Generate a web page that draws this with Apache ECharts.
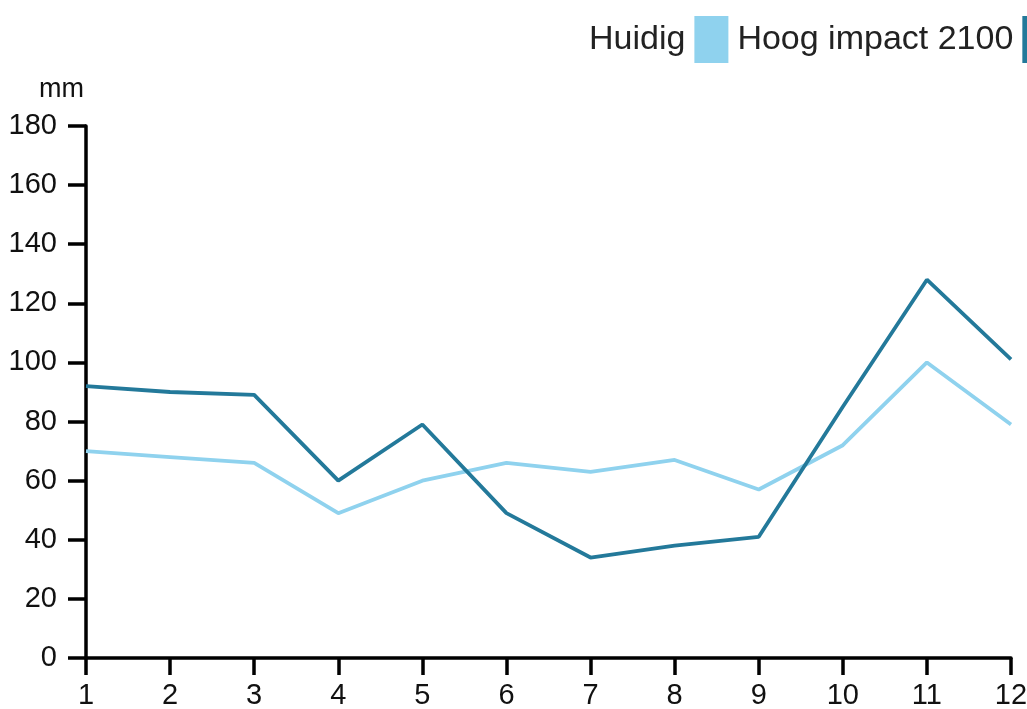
<!DOCTYPE html>
<html>
<head>
<meta charset="utf-8">
<script src="https://cdn.jsdelivr.net/npm/echarts@6/dist/echarts.min.js"></script>
<style>
  html, body { margin: 0; padding: 0; background: #fff; }
  #chart { width: 1027px; height: 709px; }
</style>
</head>
<body>
<div id="chart"></div>
<script>
// maanden en neerslag (mm)
const months = ['1', '2', '3', '4', '5', '6', '7', '8', '9', '10', '11', '12']
const huidig = [70, 68, 66, 49, 60, 66, 63, 67, 57, 72, 100, 79]
const hoogImpact2100 = [92, 90, 89, 60, 79, 49, 34, 38, 41, 85, 128, 101]

const chart = echarts.init(document.getElementById('chart'))

const axisFont = {
  fontFamily: 'Liberation Sans, Arial, sans-serif',
  fontSize: 29,
  color: '#111'
}

chart.setOption({
  animation: false,
  legend: {
    left: 584,
    top: 11,
    width: 800,
    align: 'right',
    itemWidth: 34,
    itemHeight: 47,
    itemGap: 9,
    icon: 'rect',
    textStyle: {
      fontFamily: 'Liberation Sans, Arial, sans-serif',
      fontSize: 34,
      color: '#222',
      padding: [0, 4, 0, 0]
    },
    data: ['Huidig', 'Hoog impact 2100']
  },
  grid: {
    left: 86,
    right: 16,
    top: 126,
    bottom: 51,
    containLabel: false,
    outerBoundsMode: 'none'
  },
  xAxis: {
    type: 'category',
    data: months,
    boundaryGap: false,
    axisLine: { lineStyle: { color: '#000', width: 3.5 } },
    axisTick: { length: 17, lineStyle: { color: '#000', width: 3.5 } },
    axisLabel: Object.assign({ margin: 23 }, axisFont),
    splitLine: { show: false }
  },
  yAxis: {
    type: 'value',
    min: 0,
    max: 180,
    interval: 20,
    name: 'mm',
    nameLocation: 'end',
    nameGap: 23,
    nameTextStyle: {
      fontFamily: 'Liberation Sans, Arial, sans-serif',
      fontSize: 27,
      color: '#111',
      align: 'right',
      padding: [0, 2, 0, 0]
    },
    axisLine: { show: true, lineStyle: { color: '#000', width: 3.5 } },
    axisTick: { show: true, length: 18, lineStyle: { color: '#000', width: 3.5 } },
    axisLabel: Object.assign({ margin: 29 }, axisFont),
    splitLine: { show: false }
  },
  series: [
    {
      name: 'Huidig',
      type: 'line',
      data: huidig,
      showSymbol: false,
      color: '#8fd2ee',
      lineStyle: { width: 3.8, color: '#8fd2ee' }
    },
    {
      name: 'Hoog impact 2100',
      type: 'line',
      data: hoogImpact2100,
      showSymbol: false,
      color: '#23799a',
      lineStyle: { width: 3.8, color: '#23799a' }
    }
  ]
})
</script>
</body>
</html>
